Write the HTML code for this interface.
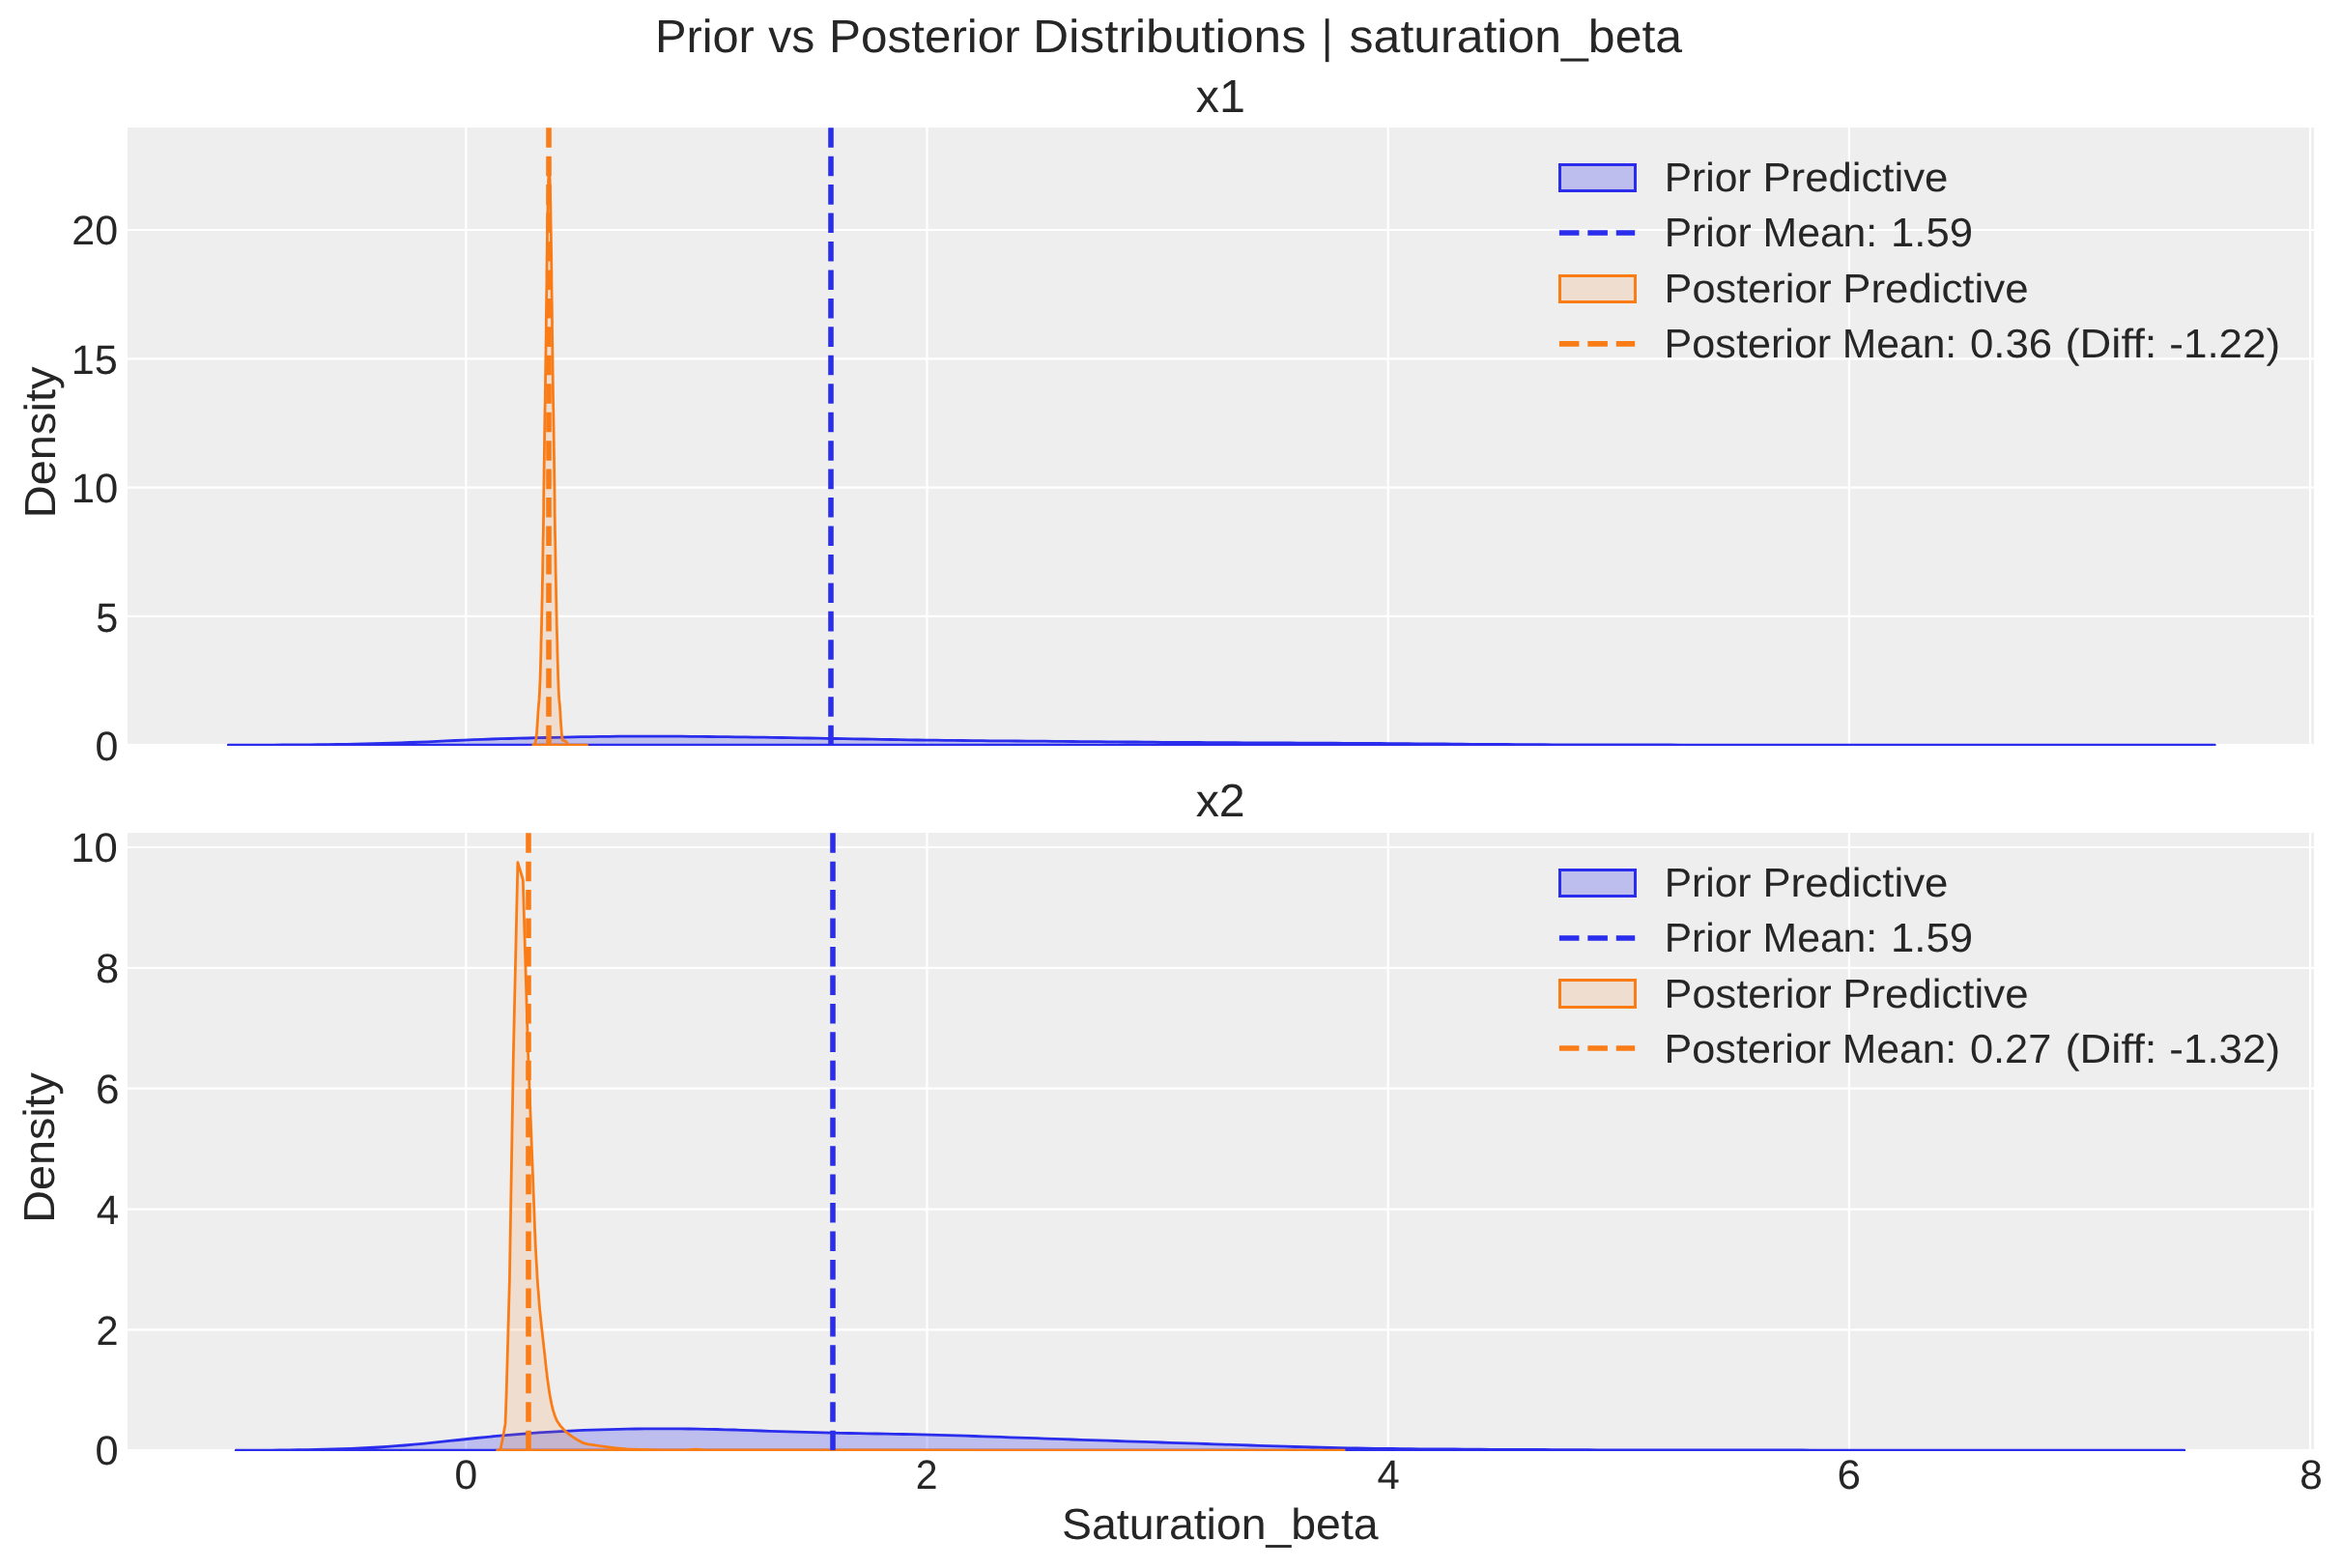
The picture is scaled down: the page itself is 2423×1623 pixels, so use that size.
<!DOCTYPE html>
<html lang="en"><head><meta charset="utf-8"><title>Prior vs Posterior Distributions | saturation_beta</title>
<style>html,body{margin:0;padding:0;background:#fff}body{width:2423px;height:1623px;overflow:hidden}svg{display:block;will-change:transform}text{font-family:"Liberation Sans",sans-serif;fill:#262626;white-space:pre;text-rendering:geometricPrecision}</style></head><body>
<svg width="2423" height="1623" viewBox="0 0 2423 1623">
<rect width="2423" height="1623" fill="#fff"/>
<rect x="132" y="132" width="2263" height="638" fill="#eeeeee"/>
<path d="M482.30 132V770M959.50 132V770M1436.70 132V770M1913.90 132V770M2391.10 132V770M132 637.90H2395M132 504.60H2395M132 371.30H2395M132 238.00H2395" stroke="#fff" stroke-width="2.22" fill="none"/>
<clipPath id="k1"><rect x="132" y="132" width="2263" height="640"/></clipPath>
<g clip-path="url(#k1)" stroke-width="2.78" stroke-linejoin="round"><path d="M236.3 771.2 L245.7 771.2 L255.1 771.2 L264.5 771.2 L273.9 771.1 L283.2 771.1 L292.6 771.0 L302.0 771.0 L311.4 770.9 L320.8 770.8 L330.2 770.7 L339.6 770.6 L349.0 770.4 L358.4 770.3 L367.7 770.1 L377.1 769.9 L386.5 769.7 L395.9 769.4 L405.3 769.2 L414.7 768.9 L424.1 768.5 L433.5 768.1 L442.8 767.8 L452.2 767.3 L461.6 766.9 L471.0 766.5 L480.4 766.1 L489.8 765.7 L499.2 765.4 L508.6 765.0 L517.9 764.7 L527.3 764.5 L536.7 764.2 L546.1 764.0 L555.5 763.7 L564.9 763.5 L574.3 763.3 L583.7 763.1 L593.1 762.9 L602.4 762.7 L611.8 762.6 L621.2 762.4 L630.6 762.3 L640.0 762.2 L649.4 762.2 L658.8 762.1 L668.2 762.1 L677.5 762.1 L686.9 762.1 L696.3 762.2 L705.7 762.2 L715.1 762.3 L724.5 762.4 L733.9 762.5 L743.3 762.6 L752.7 762.7 L762.0 762.8 L771.4 762.9 L780.8 763.1 L790.2 763.2 L799.6 763.3 L809.0 763.5 L818.4 763.6 L827.8 763.8 L837.1 764.0 L846.5 764.1 L855.9 764.3 L865.3 764.5 L874.7 764.7 L884.1 764.8 L893.5 765.0 L902.9 765.2 L912.3 765.4 L921.6 765.5 L931.0 765.7 L940.4 765.8 L949.8 766.0 L959.2 766.1 L968.6 766.2 L978.0 766.3 L987.4 766.4 L996.7 766.5 L1006.1 766.6 L1015.5 766.7 L1024.9 766.8 L1034.3 766.9 L1043.7 766.9 L1053.1 767.0 L1062.5 767.1 L1071.9 767.2 L1081.2 767.2 L1090.6 767.3 L1100.0 767.4 L1109.4 767.5 L1118.8 767.6 L1128.2 767.6 L1137.6 767.7 L1147.0 767.8 L1156.3 767.9 L1165.7 768.0 L1175.1 768.0 L1184.5 768.1 L1193.9 768.2 L1203.3 768.3 L1212.7 768.3 L1222.1 768.4 L1231.5 768.5 L1240.8 768.5 L1250.2 768.6 L1259.6 768.6 L1269.0 768.7 L1278.4 768.7 L1287.8 768.8 L1297.2 768.8 L1306.6 768.9 L1315.9 768.9 L1325.3 769.0 L1334.7 769.0 L1344.1 769.1 L1353.5 769.1 L1362.9 769.2 L1372.3 769.2 L1381.7 769.2 L1391.1 769.3 L1400.4 769.3 L1409.8 769.4 L1419.2 769.5 L1428.6 769.5 L1438.0 769.6 L1447.4 769.6 L1456.8 769.7 L1466.2 769.8 L1475.5 769.9 L1484.9 770.0 L1494.3 770.0 L1503.7 770.1 L1513.1 770.2 L1522.5 770.3 L1531.9 770.3 L1541.3 770.4 L1550.7 770.5 L1560.0 770.5 L1569.4 770.6 L1578.8 770.6 L1588.2 770.7 L1597.6 770.7 L1607.0 770.8 L1616.4 770.8 L1625.8 770.9 L1635.1 770.9 L1644.5 770.9 L1653.9 770.9 L1663.3 770.9 L1672.7 771.0 L1682.1 771.0 L1691.5 771.0 L1700.9 771.0 L1710.3 771.0 L1719.6 771.0 L1729.0 771.0 L1738.4 771.1 L1747.8 771.1 L1757.2 771.1 L1766.6 771.1 L1776.0 771.1 L1785.4 771.1 L1794.7 771.1 L1804.1 771.1 L1813.5 771.1 L1822.9 771.1 L1832.3 771.1 L1841.7 771.1 L1851.1 771.1 L1860.5 771.1 L1869.9 771.1 L1879.2 771.1 L1888.6 771.1 L1898.0 771.1 L1907.4 771.1 L1916.8 771.2 L1926.2 771.2 L1935.6 771.2 L1945.0 771.2 L1954.3 771.2 L1963.7 771.2 L1973.1 771.2 L1982.5 771.2 L1991.9 771.2 L2001.3 771.2 L2010.7 771.2 L2020.1 771.2 L2029.4 771.2 L2038.8 771.2 L2048.2 771.2 L2057.6 771.2 L2067.0 771.2 L2076.4 771.2 L2085.8 771.2 L2095.2 771.2 L2104.6 771.2 L2113.9 771.2 L2123.3 771.2 L2132.7 771.2 L2142.1 771.2 L2151.5 771.2 L2160.9 771.2 L2170.3 771.2 L2179.7 771.2 L2189.0 771.2 L2198.4 771.2 L2207.8 771.2 L2217.2 771.2 L2226.6 771.2 L2236.0 771.2 L2245.4 771.2 L2254.8 771.2 L2264.2 771.2 L2273.5 771.2 L2282.9 771.2 L2292.3 771.2 Z" fill="#2a2eec" fill-opacity="0.25" stroke="#2a2eec"/><path d="M551.8 771.2 L553.2 770.4 L554.0 769.0 L554.6 766.0 L555.5 758.9 L556.0 751.8 L556.5 744.7 L556.9 737.6 L557.4 730.5 L558.1 723.4 L558.5 716.3 L558.8 709.2 L559.1 702.1 L559.3 695.0 L559.5 687.9 L559.7 680.8 L559.9 673.7 L560.0 666.6 L560.2 659.5 L560.4 652.4 L560.6 645.3 L560.7 638.2 L560.9 631.1 L561.0 624.0 L561.2 616.9 L561.3 609.8 L561.4 602.7 L561.6 595.6 L561.7 588.5 L561.8 581.4 L561.9 574.3 L562.0 567.2 L562.1 560.1 L562.3 553.0 L562.4 545.9 L562.5 538.8 L562.6 531.7 L562.7 524.6 L562.7 517.5 L562.8 510.4 L562.9 503.3 L563.0 496.2 L563.1 489.1 L563.2 481.9 L563.3 474.8 L563.4 467.7 L563.5 460.6 L563.6 453.5 L563.7 446.4 L563.8 439.3 L563.9 432.2 L564.0 425.1 L564.2 418.0 L564.3 410.9 L564.4 403.8 L564.5 396.7 L564.6 389.6 L564.7 382.5 L564.8 375.4 L564.9 368.3 L565.0 361.2 L565.1 354.1 L565.2 347.0 L565.3 339.9 L565.3 332.8 L565.4 325.7 L565.5 318.6 L565.6 311.5 L565.7 304.4 L565.8 297.3 L565.9 290.2 L565.9 283.1 L566.0 276.0 L566.1 268.9 L566.2 261.8 L566.3 254.7 L566.4 247.6 L566.5 240.5 L566.7 233.4 L566.8 226.3 L566.9 219.2 L567.0 212.1 L567.2 205.0 L567.3 200.0 L567.4 197.3 L567.4 194.7 L567.5 192.0 L567.6 189.3 L567.6 186.7 L567.8 184.0 L567.9 181.3 L568.1 178.7 L568.4 176.0 L568.7 178.7 L568.9 181.3 L569.0 184.0 L569.2 186.7 L569.2 189.3 L569.3 192.0 L569.4 194.7 L569.4 197.3 L569.5 200.0 L569.6 205.0 L569.8 212.1 L569.9 219.2 L570.0 226.3 L570.1 233.4 L570.3 240.5 L570.4 247.6 L570.5 254.7 L570.6 261.8 L570.7 268.9 L570.8 276.0 L570.9 283.1 L570.9 290.2 L571.0 297.3 L571.1 304.4 L571.2 311.5 L571.3 318.6 L571.4 325.7 L571.5 332.8 L571.5 339.9 L571.6 347.0 L571.7 354.1 L571.8 361.2 L571.9 368.3 L572.0 375.4 L572.1 382.5 L572.2 389.6 L572.3 396.7 L572.4 403.8 L572.5 410.9 L572.6 418.0 L572.8 425.1 L572.9 432.2 L573.0 439.3 L573.1 446.4 L573.2 453.5 L573.3 460.6 L573.4 467.7 L573.5 474.8 L573.6 481.9 L573.7 489.1 L573.8 496.2 L573.9 503.3 L574.0 510.4 L574.1 517.5 L574.1 524.6 L574.2 531.7 L574.3 538.8 L574.4 545.9 L574.5 553.0 L574.7 560.1 L574.8 567.2 L574.9 574.3 L575.0 581.4 L575.1 588.5 L575.2 595.6 L575.4 602.7 L575.5 609.8 L575.6 616.9 L575.8 624.0 L575.9 631.1 L576.1 638.2 L576.2 645.3 L576.4 652.4 L576.6 659.5 L576.8 666.6 L576.9 673.7 L577.1 680.8 L577.3 687.9 L577.5 695.0 L577.7 702.1 L578.0 709.2 L578.3 716.3 L578.7 723.4 L579.4 730.5 L579.9 737.6 L580.3 744.7 L580.8 751.8 L581.3 758.9 L582.2 766.0 L583.5 766.5 L585.5 767.3 L587.0 769.2 L588.0 771.2 L607.6 771.2 Z" fill="#fa7c17" fill-opacity="0.14" stroke="#fa7c17"/></g>
<clipPath id="c1"><rect x="132" y="132" width="2263" height="639.20"/></clipPath>
<g clip-path="url(#c1)" stroke-width="5.56" stroke-dasharray="20.56 8.89" fill="none"><path d="M860.00 771.20V127" stroke="#2a2eec"/><path d="M568.00 771.20V127" stroke="#fa7c17"/></g>
<rect x="132" y="862" width="2263" height="638" fill="#eeeeee"/>
<path d="M482.30 862V1500M959.50 862V1500M1436.70 862V1500M1913.90 862V1500M2391.10 862V1500M132 1376.36H2395M132 1251.52H2395M132 1126.68H2395M132 1001.84H2395M132 877.00H2395" stroke="#fff" stroke-width="2.22" fill="none"/>
<clipPath id="k2"><rect x="132" y="862" width="2263" height="640"/></clipPath>
<g clip-path="url(#k2)" stroke-width="2.78" stroke-linejoin="round"><path d="M244.2 1501.2 L253.4 1501.2 L262.6 1501.2 L271.8 1501.1 L281.0 1501.1 L290.2 1501.0 L299.4 1500.9 L308.6 1500.7 L317.8 1500.6 L327.1 1500.4 L336.3 1500.2 L345.5 1499.9 L354.7 1499.6 L363.9 1499.3 L373.1 1498.9 L382.3 1498.5 L391.5 1498.0 L400.7 1497.4 L409.9 1496.7 L419.1 1496.0 L428.3 1495.2 L437.6 1494.3 L446.8 1493.4 L456.0 1492.4 L465.2 1491.4 L474.4 1490.5 L483.6 1489.5 L492.8 1488.5 L502.0 1487.6 L511.2 1486.7 L520.4 1485.9 L529.6 1485.1 L538.8 1484.3 L548.1 1483.6 L557.3 1482.9 L566.5 1482.3 L575.7 1481.8 L584.9 1481.3 L594.1 1480.8 L603.3 1480.4 L612.5 1480.1 L621.7 1479.8 L630.9 1479.6 L640.1 1479.4 L649.3 1479.2 L658.6 1479.0 L667.8 1478.9 L677.0 1478.9 L686.2 1478.9 L695.4 1478.9 L704.6 1478.9 L713.8 1479.0 L723.0 1479.2 L732.2 1479.3 L741.4 1479.5 L750.6 1479.8 L759.8 1480.0 L769.1 1480.3 L778.3 1480.6 L787.5 1481.0 L796.7 1481.3 L805.9 1481.6 L815.1 1481.9 L824.3 1482.2 L833.5 1482.4 L842.7 1482.7 L851.9 1482.9 L861.1 1483.1 L870.4 1483.3 L879.6 1483.5 L888.8 1483.6 L898.0 1483.8 L907.2 1484.0 L916.4 1484.2 L925.6 1484.3 L934.8 1484.5 L944.0 1484.7 L953.2 1484.9 L962.4 1485.2 L971.6 1485.4 L980.9 1485.7 L990.1 1485.9 L999.3 1486.2 L1008.5 1486.5 L1017.7 1486.8 L1026.9 1487.1 L1036.1 1487.4 L1045.3 1487.8 L1054.5 1488.1 L1063.7 1488.4 L1072.9 1488.7 L1082.1 1489.1 L1091.4 1489.4 L1100.6 1489.7 L1109.8 1490.0 L1119.0 1490.3 L1128.2 1490.6 L1137.4 1490.9 L1146.6 1491.2 L1155.8 1491.5 L1165.0 1491.8 L1174.2 1492.1 L1183.4 1492.4 L1192.6 1492.7 L1201.9 1493.0 L1211.1 1493.3 L1220.3 1493.6 L1229.5 1493.9 L1238.7 1494.2 L1247.9 1494.5 L1257.1 1494.8 L1266.3 1495.1 L1275.5 1495.4 L1284.7 1495.7 L1293.9 1496.0 L1303.1 1496.3 L1312.4 1496.6 L1321.6 1496.9 L1330.8 1497.2 L1340.0 1497.5 L1349.2 1497.7 L1358.4 1498.0 L1367.6 1498.2 L1376.8 1498.5 L1386.0 1498.7 L1395.2 1498.9 L1404.4 1499.0 L1413.6 1499.2 L1422.9 1499.3 L1432.1 1499.4 L1441.3 1499.5 L1450.5 1499.6 L1459.7 1499.7 L1468.9 1499.8 L1478.1 1499.8 L1487.3 1499.9 L1496.5 1500.0 L1505.7 1500.0 L1514.9 1500.1 L1524.1 1500.2 L1533.4 1500.2 L1542.6 1500.3 L1551.8 1500.3 L1561.0 1500.4 L1570.2 1500.4 L1579.4 1500.4 L1588.6 1500.5 L1597.8 1500.5 L1607.0 1500.6 L1616.2 1500.6 L1625.4 1500.7 L1634.7 1500.7 L1643.9 1500.7 L1653.1 1500.8 L1662.3 1500.8 L1671.5 1500.8 L1680.7 1500.8 L1689.9 1500.9 L1699.1 1500.9 L1708.3 1500.9 L1717.5 1500.9 L1726.7 1500.9 L1735.9 1500.9 L1745.2 1500.9 L1754.4 1501.0 L1763.6 1501.0 L1772.8 1501.0 L1782.0 1501.0 L1791.2 1501.0 L1800.4 1501.0 L1809.6 1501.0 L1818.8 1501.0 L1828.0 1501.0 L1837.2 1501.0 L1846.4 1501.0 L1855.7 1501.0 L1864.9 1501.0 L1874.1 1501.1 L1883.3 1501.1 L1892.5 1501.1 L1901.7 1501.1 L1910.9 1501.1 L1920.1 1501.1 L1929.3 1501.1 L1938.5 1501.1 L1947.7 1501.1 L1956.9 1501.1 L1966.2 1501.1 L1975.4 1501.1 L1984.6 1501.1 L1993.8 1501.1 L2003.0 1501.1 L2012.2 1501.1 L2021.4 1501.1 L2030.6 1501.1 L2039.8 1501.1 L2049.0 1501.1 L2058.2 1501.1 L2067.4 1501.1 L2076.7 1501.2 L2085.9 1501.2 L2095.1 1501.2 L2104.3 1501.2 L2113.5 1501.2 L2122.7 1501.2 L2131.9 1501.2 L2141.1 1501.2 L2150.3 1501.2 L2159.5 1501.2 L2168.7 1501.2 L2177.9 1501.2 L2187.2 1501.2 L2196.4 1501.2 L2205.6 1501.2 L2214.8 1501.2 L2224.0 1501.2 L2233.2 1501.2 L2242.4 1501.2 L2251.6 1501.2 L2260.8 1501.2 Z" fill="#2a2eec" fill-opacity="0.25" stroke="#2a2eec"/><path d="M514.6 1501.2 L518.0 1500.2 L520.5 1488.0 L523.0 1473.9 L524.2 1441.0 L527.4 1325.0 L531.4 1090.0 L535.9 892.6 L541.3 910.5 L546.6 1090.0 L552.8 1250.7 L553.0 1256.5 L553.2 1262.4 L553.4 1268.2 L553.6 1274.1 L553.9 1279.9 L554.1 1285.7 L554.4 1291.6 L554.7 1297.4 L555.0 1303.2 L555.4 1309.0 L555.7 1314.9 L556.0 1320.7 L556.4 1326.5 L556.8 1332.4 L557.3 1338.2 L557.7 1344.0 L558.2 1349.8 L558.7 1355.6 L559.3 1361.5 L559.9 1367.3 L560.5 1373.1 L561.2 1378.9 L561.8 1384.7 L562.5 1390.5 L563.1 1396.3 L563.8 1402.1 L564.4 1407.9 L565.0 1413.7 L565.7 1419.5 L566.4 1425.3 L567.2 1431.1 L568.0 1436.9 L568.9 1442.7 L569.9 1448.4 L571.1 1454.1 L572.5 1459.9 L574.3 1465.5 L576.5 1470.7 L579.8 1475.6 L583.8 1480.0 L588.0 1483.9 L592.8 1487.4 L597.8 1490.5 L603.0 1493.3 L608.5 1494.9 L614.3 1495.6 L620.1 1496.5 L625.9 1497.3 L631.7 1498.1 L637.5 1498.8 L643.3 1499.4 L649.1 1499.9 L655.0 1500.1 L660.8 1500.3 L666.6 1500.5 L672.5 1500.6 L678.3 1500.7 L684.1 1500.8 L690.0 1500.8 L712.0 1500.7 L720.5 1500.1 L729.0 1500.8 L900.0 1501.0 L1391.2 1501.2 Z" fill="#fa7c17" fill-opacity="0.14" stroke="#fa7c17"/></g>
<clipPath id="c2"><rect x="132" y="862" width="2263" height="639.20"/></clipPath>
<g clip-path="url(#c2)" stroke-width="5.56" stroke-dasharray="20.56 8.89" fill="none"><path d="M862.00 1501.20V857" stroke="#2a2eec"/><path d="M547.00 1501.20V857" stroke="#fa7c17"/></g>
<rect x="1614.5" y="170.5" width="78" height="27" fill="#2a2eec" fill-opacity="0.25" stroke="#2a2eec" stroke-width="3"/>
<rect x="1614.5" y="285.5" width="78" height="27" fill="#fa7c17" fill-opacity="0.14" stroke="#fa7c17" stroke-width="3"/>
<path d="M1613.9 241.0H1692.2" stroke="#2a2eec" stroke-width="5.56" stroke-dasharray="20.56 8.89" fill="none"/>
<path d="M1613.9 355.9H1692.2" stroke="#fa7c17" stroke-width="5.56" stroke-dasharray="20.56 8.89" fill="none"/>
<text y="198.10" font-size="42.00"><tspan x="1722.65" textLength="89.89" lengthAdjust="spacingAndGlyphs">Prior</tspan> <tspan x="1824.44" textLength="191.96" lengthAdjust="spacingAndGlyphs">Predictive</tspan></text>
<text y="255.40" font-size="42.00"><tspan x="1722.65" textLength="89.95" lengthAdjust="spacingAndGlyphs">Prior</tspan> <tspan x="1824.60" textLength="118.63" lengthAdjust="spacingAndGlyphs">Mean:</tspan> <tspan x="1957.03" textLength="84.88" lengthAdjust="spacingAndGlyphs">1.59</tspan></text>
<text y="312.90" font-size="42.00"><tspan x="1722.59" textLength="173.19" lengthAdjust="spacingAndGlyphs">Posterior</tspan> <tspan x="1907.31" textLength="192.18" lengthAdjust="spacingAndGlyphs">Predictive</tspan></text>
<text y="370.20" font-size="42.00"><tspan x="1722.60" textLength="172.65" lengthAdjust="spacingAndGlyphs">Posterior</tspan> <tspan x="1906.84" textLength="118.31" lengthAdjust="spacingAndGlyphs">Mean:</tspan> <tspan x="2038.97" textLength="85.11" lengthAdjust="spacingAndGlyphs">0.36</tspan> <tspan x="2137.52" textLength="94.89" lengthAdjust="spacingAndGlyphs">(Diff:</tspan> <tspan x="2245.29" textLength="114.90" lengthAdjust="spacingAndGlyphs">-1.22)</tspan></text>
<rect x="1614.5" y="900.5" width="78" height="27" fill="#2a2eec" fill-opacity="0.25" stroke="#2a2eec" stroke-width="3"/>
<rect x="1614.5" y="1014.5" width="78" height="28" fill="#fa7c17" fill-opacity="0.14" stroke="#fa7c17" stroke-width="3"/>
<path d="M1613.9 971.0H1692.2" stroke="#2a2eec" stroke-width="5.56" stroke-dasharray="20.56 8.89" fill="none"/>
<path d="M1613.9 1085.0H1692.2" stroke="#fa7c17" stroke-width="5.56" stroke-dasharray="20.56 8.89" fill="none"/>
<text y="928.10" font-size="42.00"><tspan x="1722.65" textLength="89.89" lengthAdjust="spacingAndGlyphs">Prior</tspan> <tspan x="1824.44" textLength="191.96" lengthAdjust="spacingAndGlyphs">Predictive</tspan></text>
<text y="985.30" font-size="42.00"><tspan x="1722.65" textLength="89.95" lengthAdjust="spacingAndGlyphs">Prior</tspan> <tspan x="1824.60" textLength="118.63" lengthAdjust="spacingAndGlyphs">Mean:</tspan> <tspan x="1957.03" textLength="84.88" lengthAdjust="spacingAndGlyphs">1.59</tspan></text>
<text y="1042.60" font-size="42.00"><tspan x="1722.59" textLength="173.19" lengthAdjust="spacingAndGlyphs">Posterior</tspan> <tspan x="1907.31" textLength="192.18" lengthAdjust="spacingAndGlyphs">Predictive</tspan></text>
<text y="1099.80" font-size="42.00"><tspan x="1722.60" textLength="172.65" lengthAdjust="spacingAndGlyphs">Posterior</tspan> <tspan x="1906.84" textLength="118.31" lengthAdjust="spacingAndGlyphs">Mean:</tspan> <tspan x="2038.99" textLength="84.34" lengthAdjust="spacingAndGlyphs">0.27</tspan> <tspan x="2137.52" textLength="94.89" lengthAdjust="spacingAndGlyphs">(Diff:</tspan> <tspan x="2245.29" textLength="114.90" lengthAdjust="spacingAndGlyphs">-1.32)</tspan></text>
<text y="54.00" font-size="48.00"><tspan x="677.94" textLength="102.89" lengthAdjust="spacingAndGlyphs">Prior</tspan> <tspan x="795.24" textLength="48.11" lengthAdjust="spacingAndGlyphs">vs</tspan> <tspan x="858.11" textLength="197.65" lengthAdjust="spacingAndGlyphs">Posterior</tspan> <tspan x="1068.97" textLength="282.89" lengthAdjust="spacingAndGlyphs">Distributions</tspan> <tspan x="1367.76" textLength="11.72" lengthAdjust="spacingAndGlyphs">|</tspan> <tspan x="1396.62" textLength="344.49" lengthAdjust="spacingAndGlyphs">saturation_beta</tspan></text>
<text y="116.00" font-size="48.00"><tspan x="1237.80" textLength="51.12" lengthAdjust="spacingAndGlyphs">x1</tspan></text>
<text y="845.00" font-size="48.00"><tspan x="1237.70" textLength="51.07" lengthAdjust="spacingAndGlyphs">x2</tspan></text>
<text y="1593.30" font-size="45.00"><tspan x="1099.04" textLength="327.57" lengthAdjust="spacingAndGlyphs">Saturation_beta</tspan></text>
<text transform="translate(56.50 536.22) rotate(-90)" x="0" y="0" font-size="45.00" textLength="156.67" lengthAdjust="spacingAndGlyphs">Density</text>
<text transform="translate(56.30 1265.79) rotate(-90)" x="0" y="0" font-size="45.00" textLength="155.75" lengthAdjust="spacingAndGlyphs">Density</text>
<text y="786.50" font-size="42.51"><tspan x="98.43" textLength="23.93" lengthAdjust="spacingAndGlyphs">0</tspan></text>
<text y="654.00" font-size="42.51"><tspan x="99.29" textLength="23.05" lengthAdjust="spacingAndGlyphs">5</tspan></text>
<text y="520.10" font-size="42.51"><tspan x="73.66" textLength="48.61" lengthAdjust="spacingAndGlyphs">10</tspan></text>
<text y="386.90" font-size="42.51"><tspan x="73.70" textLength="48.00" lengthAdjust="spacingAndGlyphs">15</tspan></text>
<text y="253.40" font-size="42.51"><tspan x="74.27" textLength="47.87" lengthAdjust="spacingAndGlyphs">20</tspan></text>
<text y="1516.30" font-size="42.51"><tspan x="98.41" textLength="24.16" lengthAdjust="spacingAndGlyphs">0</tspan></text>
<text y="1391.70" font-size="42.51"><tspan x="99.55" textLength="23.03" lengthAdjust="spacingAndGlyphs">2</tspan></text>
<text y="1266.80" font-size="42.51"><tspan x="99.71" textLength="23.42" lengthAdjust="spacingAndGlyphs">4</tspan></text>
<text y="1141.60" font-size="42.51"><tspan x="98.96" textLength="24.61" lengthAdjust="spacingAndGlyphs">6</tspan></text>
<text y="1017.10" font-size="42.51"><tspan x="98.91" textLength="24.23" lengthAdjust="spacingAndGlyphs">8</tspan></text>
<text y="892.30" font-size="42.51"><tspan x="73.26" textLength="48.61" lengthAdjust="spacingAndGlyphs">10</tspan></text>
<text y="1541.30" font-size="42.51"><tspan x="470.40" textLength="23.70" lengthAdjust="spacingAndGlyphs">0</tspan></text>
<text y="1541.30" font-size="42.51"><tspan x="947.87" textLength="22.79" lengthAdjust="spacingAndGlyphs">2</tspan></text>
<text y="1541.30" font-size="42.51"><tspan x="1425.57" textLength="23.20" lengthAdjust="spacingAndGlyphs">4</tspan></text>
<text y="1541.30" font-size="42.51"><tspan x="1901.57" textLength="24.49" lengthAdjust="spacingAndGlyphs">6</tspan></text>
<text y="1541.30" font-size="42.51"><tspan x="2380.25" textLength="23.64" lengthAdjust="spacingAndGlyphs">8</tspan></text>
</svg></body></html>
